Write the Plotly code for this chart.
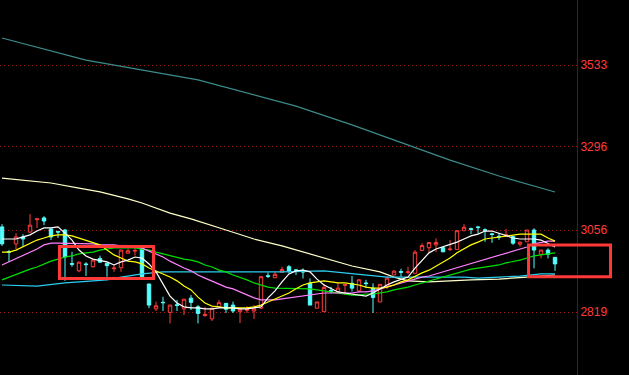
import plotly.graph_objects as go

# ---- candle data (index = trading day) ----
OPEN = [3065, 2994, 3016, 3036, 3050, 3086, 3091, 3059, 3052, 3056,
        2959, 2938, 2958, 2950, 2974, 2960, 2944, 2947, 2989, 2995,
        3004, 2900, 2828, 2847, 2818, 2840, 2828, 2859, 2834, 2809,
        2799, 2834, 2844, 2839, 2820, 2824, 2822, 2830, 2924, 2918,
        2934, 2950, 2941, 2937, 2902, 2830, 2820, 2881, 2878, 2896,
        2902, 2880, 2903, 2888, 2848, 2893, 2926, 2936, 2933, 2931,
        2997, 3005, 3013, 3005, 2999, 3000, 3054, 3060, 3065, 3057,
        3045, 3038, 3040, 3037, 3015, 3022, 3056, 2986, 2998, 2977]
HIGH = [3073, 2998, 3047, 3044, 3102, 3091, 3096, 3061, 3053, 3059,
        2993, 2965, 2963, 2972, 2982, 2961, 2955, 2999, 3003, 3004,
        3007, 2900, 2849, 2863, 2839, 2854, 2857, 2868, 2839, 2834,
        2831, 2854, 2845, 2849, 2830, 2836, 2839, 2923, 2933, 2935,
        2950, 2955, 2943, 2945, 2916, 2848, 2900, 2892, 2903, 2899,
        2923, 2914, 2912, 2902, 2900, 2921, 2940, 2944, 2950, 2998,
        3018, 3021, 3032, 3007, 3027, 3056, 3073, 3063, 3068, 3061,
        3048, 3046, 3059, 3039, 3022, 3056, 3061, 2998, 3003, 2978]
LOW = [3010, 2964, 3001, 3007, 3048, 3062, 3070, 3027, 3033, 2909,
       2950, 2934, 2923, 2947, 2961, 2921, 2935, 2935, 2989, 2982,
       2920, 2830, 2822, 2822, 2786, 2822, 2810, 2825, 2786, 2805,
       2793, 2834, 2816, 2816, 2787, 2816, 2799, 2828, 2917, 2918,
       2934, 2931, 2926, 2916, 2839, 2830, 2820, 2873, 2877, 2868,
       2878, 2877, 2888, 2816, 2848, 2886, 2926, 2921, 2928, 2931,
       2997, 2992, 2992, 2992, 2995, 3000, 3054, 3044, 3046, 3022,
       3019, 3027, 3037, 3013, 3008, 3022, 2945, 2974, 2974, 2938]
CLOSE = [3016, 2992, 3036, 3030, 3070, 3088, 3082, 3036, 3050, 2978,
         2957, 2963, 2956, 2969, 2963, 2953, 2946, 2998, 2996, 2997,
         2921, 2839, 2837, 2846, 2839, 2838, 2856, 2847, 2815, 2812,
         2830, 2846, 2827, 2822, 2827, 2826, 2828, 2921, 2922, 2928,
         2942, 2938, 2939, 2935, 2839, 2848, 2890, 2879, 2888, 2898,
         2888, 2912, 2901, 2861, 2899, 2917, 2937, 2934, 2935, 2992,
         3011, 3020, 3020, 2993, 3001, 3054, 3064, 3058, 3063, 3055,
         3043, 3036, 3042, 3018, 3021, 3056, 2998, 2998, 2986, 2958]

# ---- moving averages read per candle ----
MA5 = [3030, 3030, 3030, 3036, 3042, 3053, 3062, 3062, 3065, 3047,
       3027, 2998, 2981, 2972, 2969, 2964, 2955, 2964, 2969, 2978,
       2975, 2958, 2935, 2900, 2865, 2845, 2834, 2831, 2831, 2828,
       2828, 2831, 2831, 2831, 2828, 2828, 2831, 2834, 2860, 2880,
       2906, 2929, 2938, 2940, 2935, 2914, 2897, 2886, 2877, 2874,
       2871, 2868, 2865, 2874, 2886, 2897, 2906, 2912, 2920, 2946,
       2969, 2990, 3001, 3007, 3013, 3021, 3030, 3039, 3044, 3053,
       3053, 3047, 3039, 3033, 3030, 3030, 3030, 3027, 3016, 3007]
MA10 = [2992, 2992, 2998, 3007, 3018, 3027, 3033, 3039, 3042, 3042,
        3039, 3033, 3027, 3021, 3013, 2998, 2984, 2975, 2966, 2964,
        2958, 2946, 2938, 2929, 2920, 2909, 2894, 2883, 2862, 2845,
        2836, 2834, 2831, 2831, 2831, 2831, 2834, 2839, 2848, 2857,
        2865, 2874, 2886, 2897, 2903, 2906, 2909, 2906, 2903, 2903,
        2900, 2897, 2891, 2888, 2888, 2891, 2897, 2906, 2912, 2923,
        2932, 2940, 2952, 2964, 2975, 2990, 3001, 3013, 3021, 3030,
        3033, 3036, 3039, 3042, 3044, 3044, 3044, 3044, 3033, 3024]
MA20 = [2955, 2964, 2972, 2981, 2992, 3001, 3013, 3018, 3018, 3018,
        3018, 3018, 3016, 3016, 3013, 3013, 3013, 3010, 3010, 3007,
        3004, 2995, 2987, 2978, 2966, 2955, 2946, 2938, 2926, 2917,
        2909, 2900, 2891, 2886, 2877, 2868, 2860, 2854, 2854, 2854,
        2857, 2860, 2862, 2865, 2868, 2871, 2874, 2874, 2874, 2874,
        2874, 2877, 2877, 2880, 2886, 2891, 2897, 2903, 2909, 2914,
        2920, 2923, 2929, 2935, 2940, 2946, 2952, 2958, 2966, 2972,
        2978, 2984, 2990, 2995, 3001, 3007, 3016, 3021, 3024, 3024]
MA30 = [2912, 2920, 2926, 2935, 2943, 2949, 2958, 2966, 2972, 2978,
        2981, 2987, 2990, 2992, 2998, 3001, 3004, 3004, 3004, 3004,
        3001, 2998, 2992, 2987, 2981, 2975, 2972, 2969, 2964, 2955,
        2949, 2940, 2935, 2926, 2920, 2912, 2903, 2897, 2891, 2888,
        2888, 2888, 2888, 2888, 2886, 2883, 2880, 2877, 2874, 2871,
        2868, 2868, 2871, 2871, 2874, 2877, 2883, 2886, 2891, 2897,
        2903, 2909, 2914, 2920, 2926, 2932, 2938, 2943, 2946, 2949,
        2952, 2955, 2961, 2964, 2969, 2975, 2981, 2984, 2987, 2990]

# ---- slower averages read at selected candles ----
MA60_IDX = [0, 5, 9, 13, 15, 17, 20, 23, 40, 46, 49, 53, 55, 66, 68, 71, 74, 77, 79]
MA60 = [2897, 2894, 2903, 2909, 2912, 2920, 2929, 2935, 2935, 2938,
        2932, 2926, 2920, 2920, 2917, 2920, 2923, 2929, 2929]
MA120_IDX = [0, 4, 7, 11, 14, 18, 20, 24, 27, 32, 36, 40, 45, 50, 54, 56, 58, 61, 67, 71, 75, 79]
MA120 = [3206, 3198, 3192, 3177, 3166, 3146, 3134, 3105, 3088, 3056, 3030,
         3010, 2981, 2952, 2935, 2920, 2909, 2906, 2912, 2914, 2920, 2926]
MA250_IDX = [0, 12, 28, 35, 42, 50, 57, 64, 71, 75, 79]
MA250 = [3611, 3547, 3490, 3452, 3414, 3360, 3310, 3258, 3212, 3189, 3166]

TICKS = [3533, 3296, 3056, 2819]
Y_RANGE = [2636.9, 3720.9]
X_RANGE = [-0.286, 82.14]

# highlight boxes: (x0, x1 in paper fraction, y0, y1 in price)
BOXES = [(0.1031, 0.2660, 2916, 3008),
         (0.9160, 1.0581, 2921, 3013)]

X = list(range(len(OPEN)))
fig = go.Figure()

lines = [
    (MA250_IDX, MA250, "#3c8c8c"),
    (MA120_IDX, MA120, "#ffffc8"),
    (MA60_IDX, MA60, "#2ccdf0"),
    (X, MA30, "#00e000"),
    (X, MA20, "#ff80ff"),
    (X, MA10, "#ffff00"),
    (X, MA5, "#ffffff"),
]
for xs, ys, col in lines:
    fig.add_trace(go.Scatter(x=xs, y=ys, mode="lines",
                             line=dict(color=col, width=1.2),
                             hoverinfo="skip", showlegend=False))

fig.add_trace(go.Candlestick(
    x=X, open=OPEN, high=HIGH, low=LOW, close=CLOSE,
    increasing=dict(line=dict(color="#ff3c3c", width=1), fillcolor="#000000"),
    decreasing=dict(line=dict(color="#54ffff", width=1), fillcolor="#54ffff"),
    whiskerwidth=0, showlegend=False))

for x0, x1, y0, y1 in BOXES:
    fig.add_shape(type="rect", xref="paper", yref="y",
                  x0=x0, x1=x1, y0=y0, y1=y1,
                  line=dict(color="#ff3838", width=3), fillcolor="rgba(0,0,0,0)")

fig.update_layout(
    width=629, height=375,
    margin=dict(l=0, r=52, t=0, b=0),
    paper_bgcolor="#000000", plot_bgcolor="#000000",
    showlegend=False,
    xaxis=dict(range=X_RANGE, visible=False, rangeslider=dict(visible=False),
               showgrid=False, zeroline=False),
    yaxis=dict(range=Y_RANGE, side="right", tickvals=TICKS,
               ticktext=[str(t) for t in TICKS],
               showgrid=True, gridcolor="#a01818", griddash="1px,3px", gridwidth=1,
               showline=True, linecolor="#8b0000", linewidth=1,
               ticks="", zeroline=False,
               tickfont=dict(family="Arial, Liberation Sans", size=12, color="#ff3c3c")),
)

fig.write_html("out.html", config={"displayModeBar": False},
               post_script="document.body.style.margin='0';document.body.style.background='#000';")
